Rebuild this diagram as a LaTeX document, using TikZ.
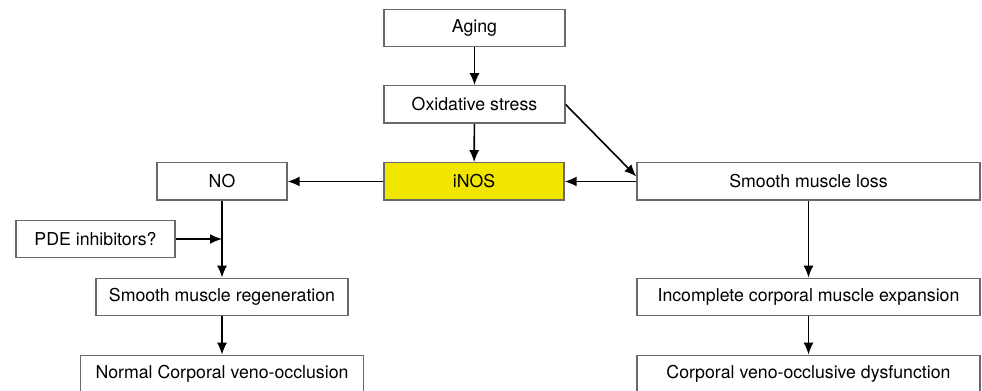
\documentclass[tikz,border=0pt]{standalone}
\usepackage{fontspec}
\setmainfont{TeX Gyre Heros}
\usetikzlibrary{arrows.meta,positioning}
\definecolor{inosyellow}{RGB}{240,230,0}
\definecolor{boxgray}{RGB}{105,105,105}

\begin{document}
\begin{tikzpicture}[
x=0.75pt, y=-0.75pt,
box/.style = {draw=boxgray, line width=1pt, inner sep=0pt, minimum height=28pt,
              font=\fontsize{13.3}{15}\selectfont},
arr/.style = {-{Latex[length=9pt,width=7.5pt]}, line width=1.2pt}
]
\useasboundingbox (0,0) rectangle (982,391);

\node (aging) [box, minimum width=135.75pt] at (474.5,28) {Aging};
\node (oxid)  [box, minimum width=135.75pt] at (474.5,104.5) {Oxidative stress};
\node (inos)  [box, fill=inosyellow, minimum width=135pt] at (474,181.5) {iNOS};
\node (no)    [box, minimum width=97.5pt] at (222,181.5) {NO};
\node (sml)   [box, minimum width=257.25pt] at (808.5,181.5) {Smooth muscle loss};

%
\node (pde)    [box, minimum width=119.25pt] at (95.5,239) {PDE inhibitors?};
\node (regen)  [box, minimum width=189pt] at (222,297) {Smooth muscle regeneration};
\node (normal) [box, minimum width=212.25pt] at (222,374) {Normal Corporal veno-occlusion};
\node (incomp) [box, minimum width=257.25pt] at (808.5,297) {Incomplete corporal muscle expansion};
\node (dysf)   [box, minimum width=257.25pt] at (808.5,374) {Corporal veno-occlusive dysfunction};

\coordinate (j) at (pde.east -| no.south);

\draw[arr] (aging) -- (oxid);
\draw[arr] (oxid) -- (inos);
\draw[arr] (oxid.east) -- ([yshift=3.75pt]sml.west);
\draw[arr] (sml.west) -- (inos.east);
\draw[arr] (inos.west) -- (no.east);

\draw[arr] (no) -- (regen);
\draw[arr] (pde.east) -- (j);
\draw[arr] (regen) -- (normal);

\draw[arr] (sml) -- (incomp);
\draw[arr] (incomp) -- (dysf);

\end{tikzpicture}
\end{document}
